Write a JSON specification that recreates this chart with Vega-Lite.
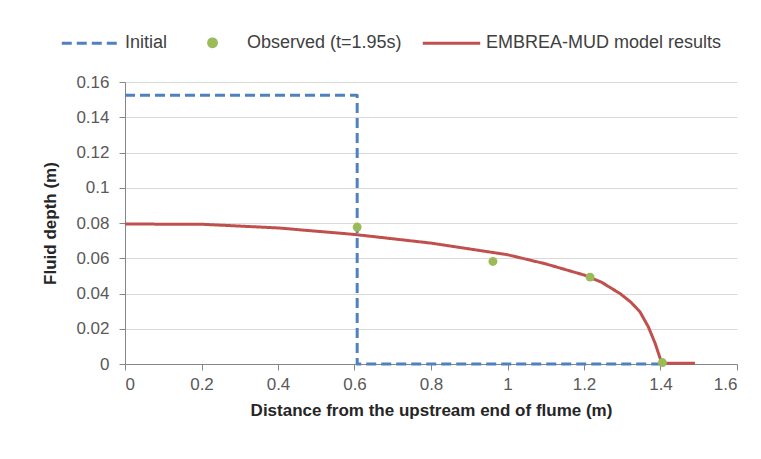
{
  "$schema": "https://vega.github.io/schema/vega-lite/v6.json",
  "width": 612,
  "height": 282,
  "autosize": "none",
  "padding": {"left": 125, "top": 82, "right": 24, "bottom": 95},
  "background": "white",
  "config": {
    "font": "Liberation Sans",
    "view": {"stroke": null},
    "axis": {
      "labelFont": "Liberation Sans",
      "titleFont": "Liberation Sans",
      "labelFontSize": 17,
      "labelColor": "#595959",
      "titleFontSize": 17,
      "titleFontWeight": "bold",
      "titleColor": "#262626",
      "domainColor": "#868686",
      "tickColor": "#868686",
      "gridColor": "#D9D9D9",
      "tickSize": 6
    }
  },
  "data": {
    "values": [
      {"series": "Initial", "i": 0, "x": 0, "y": 0.1525},
      {"series": "Initial", "i": 1, "x": 0.607, "y": 0.1525},
      {"series": "Initial", "i": 2, "x": 0.607, "y": 0},
      {"series": "Initial", "i": 3, "x": 1.40, "y": 0},
      {"series": "Observed (t=1.95s)", "i": 0, "x": 0.607, "y": 0.0777},
      {"series": "Observed (t=1.95s)", "i": 1, "x": 0.962, "y": 0.0582},
      {"series": "Observed (t=1.95s)", "i": 2, "x": 1.216, "y": 0.0493},
      {"series": "Observed (t=1.95s)", "i": 3, "x": 1.405, "y": 0.0008},
      {"series": "EMBREA-MUD model results", "i": 0, "x": 0, "y": 0.0794},
      {"series": "EMBREA-MUD model results", "i": 1, "x": 0.2, "y": 0.0793},
      {"series": "EMBREA-MUD model results", "i": 2, "x": 0.4, "y": 0.0772},
      {"series": "EMBREA-MUD model results", "i": 3, "x": 0.6, "y": 0.0735},
      {"series": "EMBREA-MUD model results", "i": 4, "x": 0.8, "y": 0.0686},
      {"series": "EMBREA-MUD model results", "i": 5, "x": 1.0, "y": 0.0620},
      {"series": "EMBREA-MUD model results", "i": 6, "x": 1.1, "y": 0.0568},
      {"series": "EMBREA-MUD model results", "i": 7, "x": 1.2, "y": 0.0505},
      {"series": "EMBREA-MUD model results", "i": 8, "x": 1.245, "y": 0.0465},
      {"series": "EMBREA-MUD model results", "i": 9, "x": 1.294, "y": 0.0400},
      {"series": "EMBREA-MUD model results", "i": 10, "x": 1.322, "y": 0.0352},
      {"series": "EMBREA-MUD model results", "i": 11, "x": 1.346, "y": 0.0297},
      {"series": "EMBREA-MUD model results", "i": 12, "x": 1.368, "y": 0.0212},
      {"series": "EMBREA-MUD model results", "i": 13, "x": 1.386, "y": 0.0117},
      {"series": "EMBREA-MUD model results", "i": 14, "x": 1.399, "y": 0.0032},
      {"series": "EMBREA-MUD model results", "i": 15, "x": 1.404, "y": 0.0004},
      {"series": "EMBREA-MUD model results", "i": 16, "x": 1.49, "y": 0.0004}
    ]
  },
  "encoding": {
    "x": {
      "field": "x", "type": "quantitative",
      "scale": {"domain": [0, 1.6], "nice": false},
      "axis": {"values": [0, 0.2, 0.4, 0.6, 0.8, 1, 1.2, 1.4, 1.6], "format": "~g", "grid": false, "title": "Distance from the upstream end of flume (m)", "labelPadding": 6, "titlePadding": 10}
    },
    "y": {
      "field": "y", "type": "quantitative",
      "scale": {"domain": [0, 0.16], "nice": false},
      "axis": {"values": [0, 0.02, 0.04, 0.06, 0.08, 0.1, 0.12, 0.14, 0.16], "format": "~g", "grid": true, "title": "Fluid depth (m)", "labelPadding": 10, "titlePadding": 16}
    }
  },
  "layer": [
    {
      "transform": [{"filter": "datum.series !== 'Observed (t=1.95s)'"}],
      "mark": {"type": "line", "strokeWidth": 3, "interpolate": "linear", "strokeJoin": "round"},
      "encoding": {
        "order": {"field": "i", "type": "quantitative"},
        "color": {
          "field": "series", "type": "nominal",
          "scale": {"domain": ["Initial", "Observed (t=1.95s)", "EMBREA-MUD model results"], "range": ["#4F81BD", "#9BBB59", "#C0504D"]},
          "legend": {
            "title": null, "orient": "none", "direction": "horizontal",
            "legendX": -65, "legendY": -70,
            "labelFontSize": 18, "labelColor": "#404040", "labelLimit": 0,
            "labelFont": "Liberation Sans",
            "symbolStrokeWidth": 3, "columnPadding": 14, "labelOffset": 4,
            "encode": {
              "symbols": {"update": {
                "size": {"signal": "datum.value === 'Observed (t=1.95s)' ? 60 : 3300"},
                "fill": {"signal": "datum.value === 'Observed (t=1.95s)' ? '#9BBB59' : 'transparent'"},
                "strokeDash": {"signal": "datum.value === 'Initial' ? [8, 4] : [1, 0]"},
                "shape": {"signal": "datum.value === 'Observed (t=1.95s)' ? 'circle' : 'stroke'"}
              }}
            }
          }
        },
        "strokeDash": {
          "field": "series", "type": "nominal",
          "scale": {"domain": ["Initial", "Observed (t=1.95s)", "EMBREA-MUD model results"], "range": [[10, 5], [1, 0], [1, 0]]},
          "legend": null
        }
      }
    },
    {
      "transform": [{"filter": "datum.series === 'Observed (t=1.95s)'"}],
      "mark": {"type": "point", "filled": true, "opacity": 1, "size": 80},
      "encoding": {
        "color": {"field": "series", "type": "nominal"}
      }
    }
  ]
}
